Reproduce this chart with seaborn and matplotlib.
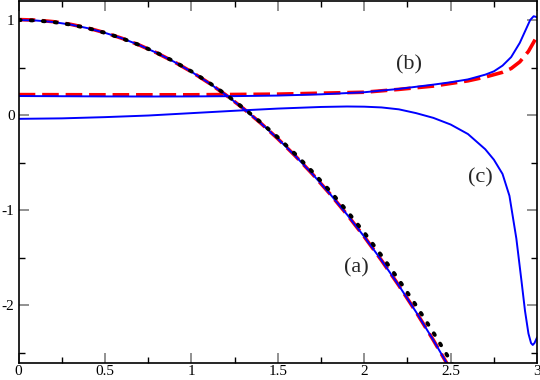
import numpy as np
import matplotlib
matplotlib.use("Agg")
import matplotlib.pyplot as plt
import seaborn as sns
from matplotlib.ticker import MultipleLocator

# courbes
x_a = [0.0, 0.1, 0.2, 0.3, 0.4, 0.5, 0.6, 0.7, 0.8, 0.9, 1.0, 1.1, 1.2, 1.3,
       1.4, 1.5, 1.6, 1.7, 1.8, 1.9, 2.0, 2.1, 2.2, 2.3, 2.4, 2.5]
y_a_blue = [1.000, 0.995, 0.979, 0.952, 0.914, 0.865, 0.806, 0.735, 0.653, 0.560,
            0.455, 0.338, 0.210, 0.069, -0.084, -0.250, -0.429, -0.621, -0.827,
            -1.047, -1.281, -1.530, -1.794, -2.074, -2.370, -2.683]
y_a_red = [1.005, 0.999, 0.983, 0.955, 0.916, 0.866, 0.806, 0.735, 0.653, 0.560,
           0.455, 0.338, 0.210, 0.069, -0.084, -0.250, -0.429, -0.621, -0.827,
           -1.047, -1.281, -1.530, -1.794, -2.074, -2.370, -2.683]

x_dots = [0.0, 0.1, 0.2, 0.3, 0.4, 0.5, 0.6, 0.7, 0.8, 0.9, 1.0, 1.1, 1.2, 1.3,
          1.4, 1.5, 1.6, 1.7, 1.8, 1.9, 2.0, 2.1, 2.2, 2.3, 2.4, 2.5, 2.6]
y_dots = [1.000, 0.995, 0.979, 0.952, 0.914, 0.865, 0.806, 0.736, 0.655, 0.563,
          0.459, 0.343, 0.215, 0.075, -0.075, -0.235, -0.410, -0.597, -0.797,
          -1.010, -1.238, -1.480, -1.735, -2.005, -2.290, -2.590, -2.900]

x_b = [0.0, 0.25, 0.5, 0.75, 1.0, 1.25, 1.5, 1.75, 2.0, 2.2, 2.4, 2.5, 2.6,
       2.7, 2.75, 2.8, 2.85, 2.9, 2.93, 2.96, 2.98, 3.0]
y_b_blue = [0.200, 0.198, 0.196, 0.195, 0.196, 0.199, 0.205, 0.218, 0.240, 0.275,
            0.320, 0.345, 0.375, 0.425, 0.460, 0.520, 0.610, 0.760, 0.880, 1.000,
            1.040, 1.030]
x_b_red = [0.0, 0.5, 1.0, 1.5, 2.0, 2.2, 2.4, 2.6, 2.7, 2.8, 2.85, 2.9, 2.95, 3.0]
y_b_red = [0.215, 0.213, 0.213, 0.220, 0.240, 0.270, 0.305, 0.360, 0.400, 0.450,
           0.490, 0.560, 0.670, 0.830]

x_c = [0.0, 0.25, 0.5, 0.75, 1.0, 1.25, 1.5, 1.75, 1.9, 2.0, 2.1, 2.2, 2.3, 2.4,
       2.5, 2.6, 2.7, 2.75, 2.8, 2.84, 2.88, 2.91, 2.93, 2.95, 2.965, 2.975,
       2.985, 3.0]
y_c = [-0.040, -0.035, -0.022, -0.005, 0.020, 0.045, 0.068, 0.085, 0.090, 0.088,
       0.080, 0.060, 0.020, -0.030, -0.100, -0.200, -0.360, -0.470, -0.620,
       -0.850, -1.300, -1.750, -2.060, -2.300, -2.400, -2.420, -2.400, -2.340]

labels = ["(a)", "(b)", "(c)"]
label_x = [1.955, 2.26, 2.672]
label_y = [-1.61, 0.526, -0.666]

sns.set_style("ticks")
plt.rcParams['font.family'] = ['Liberation Serif', 'DejaVu Serif']

fig = plt.figure(figsize=(5.4, 3.8), dpi=100)
ax = fig.add_axes([0.0346, 0.0447, 0.960, 0.9526])

red = "#ff0000"
blue = "#0000ff"

# rouge en dessous, bleu par dessus, pointillés noirs au-dessus de tout
sns.lineplot(x=x_a, y=y_a_red, ax=ax, color=red, lw=2.6, linestyle=(0, (4.6, 1.9)))
sns.lineplot(x=x_b_red, y=y_b_red, ax=ax, color=red, lw=2.6, linestyle=(0, (4.6, 1.9)))
sns.lineplot(x=x_a, y=y_a_blue, ax=ax, color=blue, lw=1.4)
sns.lineplot(x=x_b, y=y_b_blue, ax=ax, color=blue, lw=1.4)
sns.lineplot(x=x_c, y=y_c, ax=ax, color=blue, lw=1.4)
sns.lineplot(x=x_dots, y=y_dots, ax=ax, color="black", lw=2.8,
             linestyle=(0, (0.5, 2.6)), dash_capstyle="round")

for t, tx, ty in zip(labels, label_x, label_y):
    ax.text(tx, ty, t, fontsize=16, ha="center", va="center")

ax.set_xlim(0, 3)
ax.set_ylim(-2.61, 1.2)
ax.xaxis.set_major_locator(MultipleLocator(0.5))
ax.xaxis.set_minor_locator(MultipleLocator(0.25))
ax.yaxis.set_major_locator(MultipleLocator(1))
ax.yaxis.set_minor_locator(MultipleLocator(0.5))
ax.xaxis.set_major_formatter(matplotlib.ticker.FuncFormatter(lambda v, p: f"{v:g}"))
ax.yaxis.set_major_formatter(matplotlib.ticker.FuncFormatter(lambda v, p: f"{v:g}"))

ax.tick_params(which="both", direction="in", top=True, right=True)
ax.tick_params(which="major", length=7, width=1.3, color="#888888",
               labelsize=11, pad=3, labelcolor="black")
ax.tick_params(axis="x", which="major", pad=1.5)
ax.tick_params(which="minor", length=4, width=1.0, color="black")
for sp in ax.spines.values():
    sp.set_linewidth(1.2)
    sp.set_color("black")

fig.savefig("out.png", dpi=100)
